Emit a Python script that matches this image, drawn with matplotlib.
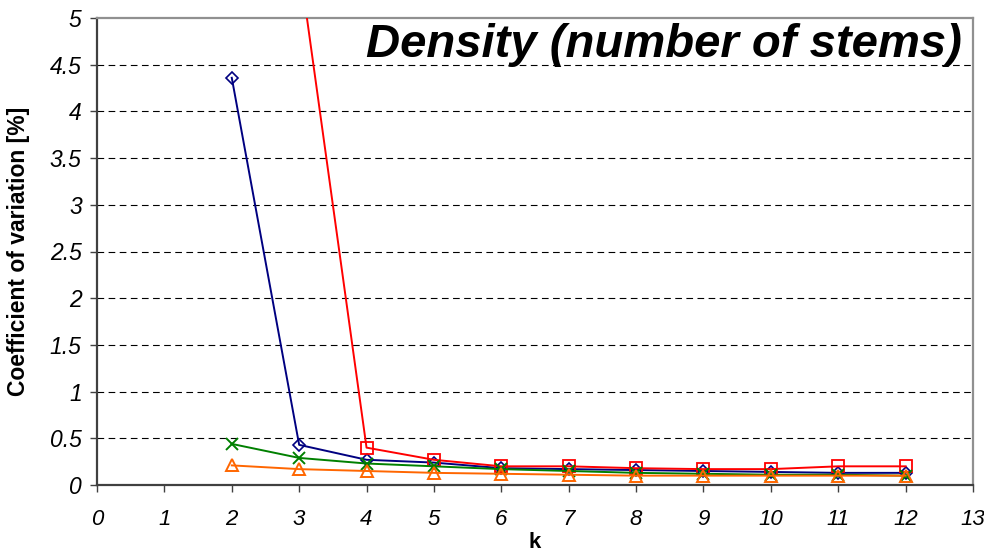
import matplotlib
matplotlib.use('Agg')
from matplotlib import pyplot as plt

plt.rcParams['font.family'] = ['Liberation Sans', 'DejaVu Sans']

# data
k_blue = [2, 3, 4, 5, 6, 7, 8, 9, 10, 11, 12]
cv_blue = [4.36, 0.43, 0.27, 0.24, 0.18, 0.17, 0.16, 0.15, 0.14, 0.13, 0.13]

k_red = [3, 4, 5, 6, 7, 8, 9, 10, 11, 12]
cv_red = [5.6, 0.40, 0.27, 0.20, 0.20, 0.18, 0.17, 0.17, 0.20, 0.20]

k_green = [2, 3, 4, 5, 6, 7, 8, 9, 10, 11, 12]
cv_green = [0.44, 0.29, 0.23, 0.20, 0.17, 0.15, 0.13, 0.12, 0.11, 0.11, 0.10]

k_orange = [2, 3, 4, 5, 6, 7, 8, 9, 10, 11, 12]
cv_orange = [0.21, 0.17, 0.15, 0.13, 0.12, 0.11, 0.10, 0.10, 0.10, 0.10, 0.10]

x_ticks = list(range(0, 14))
y_ticks = [0, 0.5, 1, 1.5, 2, 2.5, 3, 3.5, 4, 4.5, 5]
y_tick_labels = ['0', '0.5', '1', '1.5', '2', '2.5', '3', '3.5', '4', '4.5', '5']

fig = plt.figure(figsize=(9.84, 5.56), dpi=100)
ax = fig.add_axes([97 / 984, 71 / 556, 876 / 984, 467 / 556])

for y in y_ticks[1:-1]:
    ax.axhline(y, color='black', lw=0.8, ls=(0, (6, 4)), zorder=1)

ax.plot(k_blue, cv_blue, color='#000080', lw=1.4, marker='D', ms=6.5,
        mfc='none', mec='#000080', mew=1.2, zorder=3)
ax.plot(k_red, cv_red, color='#FF0000', lw=1.4, marker='s', ms=8,
        mfc='none', mec='#FF0000', mew=1.3, zorder=3)
ax.plot(k_green, cv_green, color='#008000', lw=1.4, marker='x', ms=9,
        mec='#008000', mew=1.4, zorder=3)
ax.plot(k_orange, cv_orange, color='#FF6600', lw=1.4, marker='^', ms=9,
        mfc='none', mec='#FF6600', mew=1.4, zorder=3)

ax.set_xlim(0, 13)
ax.set_ylim(0, 5)
ax.set_xticks(x_ticks)
ax.set_xticklabels([str(t) for t in x_ticks], fontsize=16, style='italic')
ax.set_yticks(y_ticks)
ax.set_yticklabels(y_tick_labels, fontsize=16.5, style='italic')
ax.tick_params(axis='x', direction='out', length=5, width=1, color='#404040', pad=12)
ax.tick_params(axis='y', direction='out', length=5, width=1, color='#404040', pad=6)

for side in ['left', 'bottom']:
    ax.spines[side].set_color('#404040')
    ax.spines[side].set_linewidth(1.6)
for side in ['top', 'right']:
    ax.spines[side].set_color('#909090')
    ax.spines[side].set_linewidth(1.6)

ax.set_xlabel('k', fontsize=16, fontweight='bold', labelpad=2)
ax.set_ylabel('Coefficient of variation [%]', fontsize=16.5, fontweight='bold', labelpad=14)

fig.text(962 / 984, (556 - 57) / 556, 'Density (number of stems)', ha='right', va='baseline',
         fontsize=34, fontweight='bold', style='italic')

fig.savefig('out.png', dpi=100)
